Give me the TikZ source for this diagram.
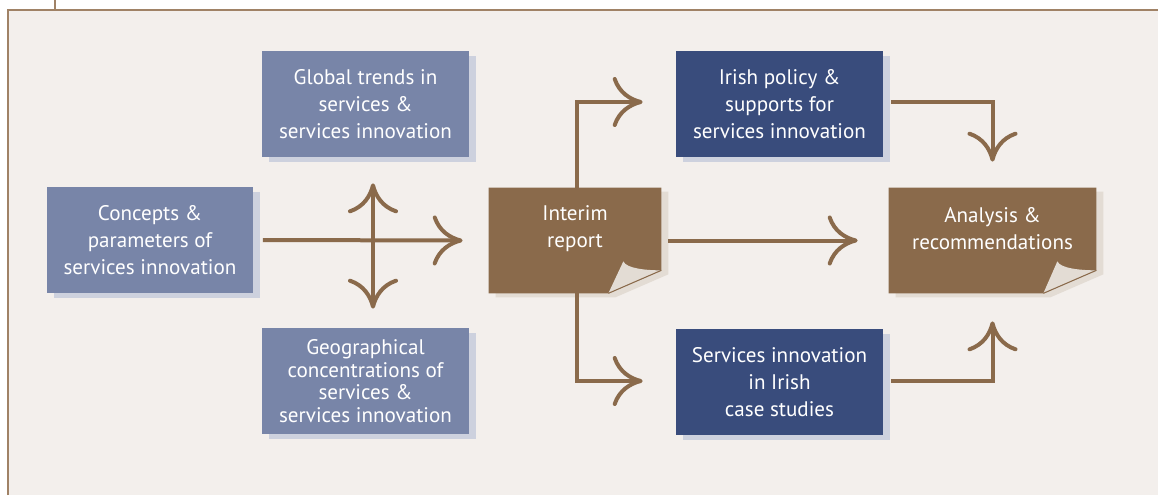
\documentclass[tikz,border=0pt]{standalone}
\usepackage{fontspec}
\setmainfont{PT Sans}
\usepackage{xcolor}
\usepackage{tikz}
\usetikzlibrary{calc}
\usetikzlibrary{arrows.meta,positioning,shadows}

\definecolor{paper}{HTML}{F3EFEC}
\definecolor{framebrown}{HTML}{A08266}
\definecolor{greyblue}{HTML}{7885A8}
\definecolor{navyblue}{HTML}{394C7C}
\definecolor{boxshadow}{HTML}{CDD1DE}
\definecolor{notebrown}{HTML}{8A6A4B}
\definecolor{noteshadow}{HTML}{E3DCD4}

\begin{document}
\begin{tikzpicture}[x=0.02cm,y=0.02cm,
	box/.style={minimum width=4.14cm,minimum height=2.12cm,inner sep=0pt,align=center,text=white,
		font=\fontsize{12}{15.3}\selectfont,
		drop shadow={shadow xshift=0.14cm,shadow yshift=-0.1cm,fill=boxshadow,opacity=1}},
	lightbox/.style={box,fill=greyblue},
	darkbox/.style={box,fill=navyblue},
	note/.style={minimum width=3.44cm,minimum height=2.1cm,inner sep=0pt},
	notetext/.style={align=center,text=white,font=\fontsize{12}{15.3}\selectfont},
	chevron/.tip={Computer Modern Rightarrow[length=0.6cm,width=1cm]},
	flow/.style={line width=0.08cm,notebrown,-chevron}]
		\useasboundingbox (0,0) rectangle (1158,495);
		% frame
		\fill[paper] (8,0) rectangle (1158,485);
		\draw[framebrown,line width=0.03cm] (8,0) -- (8,485) -- (1158,485);
		\draw[framebrown,line width=0.03cm] (55,485) -- (55,495);
		% boxes
		\node[lightbox] (concepts) at (150,255) {Concepts \&\\parameters of\\services innovation};
		\node[lightbox] (global) at (365.5,391) {Global trends in\\services \&\\services innovation};
		\node[lightbox,font=\fontsize{12}{12.8}\selectfont] (geo) at (365.5,114) {Geographical\\concentrations of\\services \&\\services innovation};
		\node[darkbox] (irish) at (779.5,391) {Irish policy \&\\supports for\\services innovation};
		\node[darkbox] (cases) at (779.5,113) {Services innovation\\in Irish\\case studies};
		\node[note] (interim) at (575,254.5) {};
		\node[note,minimum width=4.14cm] (analysis) at (992.5,254.5) {};
		% interim report note
		\fill[noteshadow] ($(interim.north west)+(7,-4)$) -- ($(interim.north east)+(7,-4)$) -- ($(interim.south east)+(7,19)$) -- ($(interim.south east)+(-46,-4)$) -- ($(interim.south west)+(7,-4)$) -- cycle;
		\fill[notebrown] (interim.north west) -- (interim.north east) -- ($(interim.south east)+(0,23)$) -- ($(interim.south east)+(-53,0)$) -- (interim.south west) -- cycle;
		\fill[noteshadow] ($(interim.south east)+(-53,0)$) -- ($(interim.south east)+(-38,32)$) .. controls ($(interim.south east)+(-35,25)$) and ($(interim.south east)+(-16,23)$) .. ($(interim.south east)+(0,23)$) -- cycle;
		\draw[notebrown,line width=0.6pt] ($(interim.south east)+(-53,0)$) -- ($(interim.south east)+(0,23)$);
		\node[notetext] (interimtext) at ($(interim)+(0,12)$) {Interim\\report};
		% analysis note
		\fill[noteshadow] ($(analysis.north west)+(7,-4)$) -- ($(analysis.north east)+(7,-4)$) -- ($(analysis.south east)+(7,19)$) -- ($(analysis.south east)+(-46,-4)$) -- ($(analysis.south west)+(7,-4)$) -- cycle;
		\fill[notebrown] (analysis.north west) -- (analysis.north east) -- ($(analysis.south east)+(0,23)$) -- ($(analysis.south east)+(-53,0)$) -- (analysis.south west) -- cycle;
		\fill[noteshadow] ($(analysis.south east)+(-53,0)$) -- ($(analysis.south east)+(-39,32)$) .. controls ($(analysis.south east)+(-36,25)$) and ($(analysis.south east)+(-16,23)$) .. ($(analysis.south east)+(0,23)$) -- cycle;
		\draw[notebrown,line width=0.6pt] ($(analysis.south east)+(-53,0)$) -- ($(analysis.south east)+(0,23)$);
		\node[notetext] (analysistext) at ($(analysis)+(0,12)$) {Analysis \&\\recommendations};
		% arrows
		\draw[flow] ($(concepts.east)+(9,0)$) -- ($(interim.west)+(-26,0)$);
		\draw[flow,chevron-chevron] ($(global.south)+(7.5,-26)$) -- ($(geo.north)+(7.5,19)$);
		\draw[flow] ($(interim.east)+(7,0)$) -- ($(analysis.west)+(-31,0)$);
		\draw[flow] ($(interim.north)+(2,0)$) |- ($(irish.west)+(-33,2)$);
		\draw[flow] ($(interim.south)+(2,0)$) |- ($(cases.west)+(-33,1)$);
		\draw[flow] ($(irish.east)+(8,2)$) -| ($(analysis.north)+(0,26)$);
		\draw[flow] ($(cases.east)+(8,1)$) -| ($(analysis.south)+(0,-28)$);
	\end{tikzpicture}
\end{document}
